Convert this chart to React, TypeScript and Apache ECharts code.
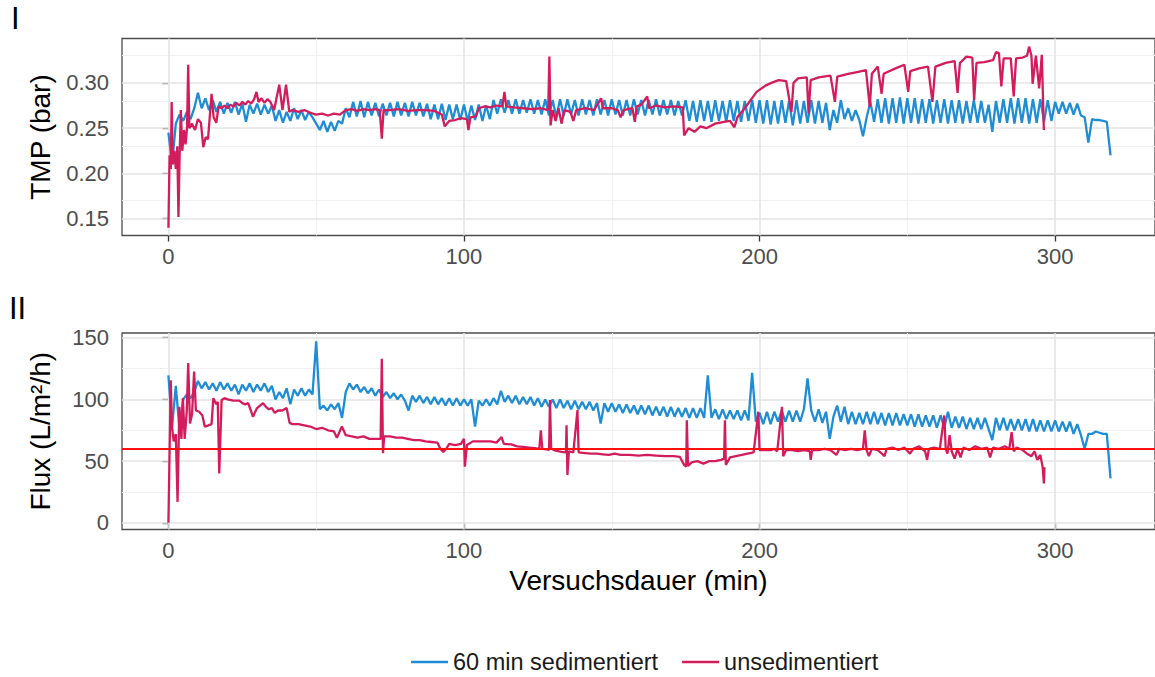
import React, { useEffect, useRef } from "react";
import * as echarts from "echarts";

// ---------- data ----------
const SERIES_NAMES = ["60 min sedimentiert", "unsedimentiert"];
const SAMPLE_STEP = 1.25; // minutes between samples of the sedimented run

// TMP (bar), 60 min sedimentiert, one value every SAMPLE_STEP minutes (rows = 10 min)
const BLUE_TMP = [
  0.245, 0.21, 0.255, 0.265, 0.258, 0.268, 0.26, 0.272,
  0.289, 0.272, 0.283, 0.27, 0.281, 0.268, 0.279, 0.266,
  0.278, 0.267, 0.279, 0.265, 0.277, 0.257, 0.276, 0.266,
  0.277, 0.265, 0.276, 0.266, 0.275, 0.258, 0.27, 0.256,
  0.268, 0.258, 0.272, 0.26, 0.27, 0.259, 0.268, 0.262,
  0.255, 0.248, 0.258, 0.246, 0.257, 0.247, 0.258, 0.255,
  0.272, 0.262, 0.279, 0.263, 0.28, 0.262, 0.279, 0.264,
  0.278, 0.263, 0.277, 0.264, 0.278, 0.263, 0.279, 0.264,
  0.278, 0.263, 0.279, 0.264, 0.278, 0.263, 0.277, 0.26,
  0.276, 0.26, 0.277, 0.259, 0.276, 0.26, 0.276, 0.259,
  0.276, 0.258, 0.275, 0.259, 0.276, 0.258, 0.275, 0.26,
  0.281, 0.266, 0.282, 0.267, 0.281, 0.266, 0.282, 0.266,
  0.281, 0.267, 0.282, 0.266, 0.281, 0.265, 0.282, 0.264,
  0.281, 0.262, 0.282, 0.264, 0.282, 0.265, 0.281, 0.264,
  0.282, 0.265, 0.281, 0.264, 0.282, 0.265, 0.281, 0.264,
  0.282, 0.265, 0.281, 0.264, 0.281, 0.264, 0.282, 0.265,
  0.281, 0.264, 0.281, 0.265, 0.282, 0.264, 0.281, 0.265,
  0.281, 0.264, 0.28, 0.264, 0.281, 0.258, 0.28, 0.257,
  0.281, 0.258, 0.28, 0.257, 0.281, 0.258, 0.28, 0.257,
  0.281, 0.258, 0.28, 0.257, 0.28, 0.258, 0.281, 0.256,
  0.281, 0.255, 0.281, 0.254, 0.28, 0.255, 0.281, 0.256,
  0.28, 0.253, 0.281, 0.255, 0.28, 0.256, 0.281, 0.255,
  0.28, 0.256, 0.278, 0.248, 0.27, 0.256, 0.281, 0.26,
  0.272, 0.258, 0.27, 0.259, 0.241, 0.262, 0.279, 0.257,
  0.282, 0.256, 0.283, 0.255, 0.283, 0.256, 0.284, 0.255,
  0.283, 0.256, 0.283, 0.255, 0.282, 0.256, 0.282, 0.255,
  0.281, 0.256, 0.282, 0.255, 0.281, 0.256, 0.281, 0.255,
  0.28, 0.256, 0.281, 0.256, 0.28, 0.256, 0.276, 0.246,
  0.28, 0.256, 0.282, 0.256, 0.283, 0.255, 0.283, 0.256,
  0.283, 0.255, 0.282, 0.256, 0.282, 0.257, 0.281, 0.258,
  0.279, 0.266, 0.279, 0.266, 0.278, 0.265, 0.277, 0.264,
  0.262, 0.234, 0.26, 0.259, 0.259, 0.258, 0.257, 0.22,
];

// Flux (L/m²/h), 60 min sedimentiert, one value every SAMPLE_STEP minutes
const BLUE_FLUX = [
  119.5, 78, 111, 76, 100, 104, 101, 106,
  115, 109, 114, 108, 113, 107, 114, 108,
  113, 107, 112, 104, 112, 107, 113, 106,
  112, 107, 113, 106, 111, 100, 106, 101,
  109, 96, 108, 103, 109, 103, 108, 104,
  147, 92, 95, 91, 96, 92, 97, 85,
  106, 113, 108, 112, 106, 110, 105, 109,
  103, 108, 102, 106, 101, 105, 100, 104,
  99, 91, 103, 98, 103, 97, 102, 96,
  102, 96, 101, 95, 101, 95, 101, 95,
  100, 95, 100, 78, 99, 95, 100, 95,
  101, 96, 107, 98, 103, 97, 103, 96,
  102, 96, 102, 95, 101, 94, 100, 94,
  100, 93, 100, 93, 99, 92, 99, 92,
  98, 92, 98, 91, 97, 80.5, 97, 90,
  97, 90, 96, 89, 96, 89, 95, 88,
  95, 88, 95, 87, 94, 87, 94, 86,
  94, 86, 93, 86, 93, 85, 93, 85,
  93, 85, 119.5, 85, 92, 84, 92, 84,
  91, 84, 91, 83, 91, 83, 121.5, 82,
  89, 80, 90, 80, 90, 82, 91, 82,
  91, 82, 91, 82, 92, 117, 91, 82,
  92, 81, 90, 68, 86, 95, 82, 94,
  80, 90, 80, 89, 80, 90, 80, 90,
  80, 89, 79, 89, 79, 89, 79, 88,
  79, 88, 78, 88, 78, 87, 78, 87,
  77, 87, 77, 90, 77, 86, 77, 86,
  76, 85, 76, 85, 76, 85, 76, 67,
  85, 75, 85, 75, 84, 75, 84, 75,
  84, 74, 84, 74, 83, 74, 83, 74,
  83, 74, 82, 74, 82, 72, 80, 71,
  60, 72, 72, 74, 73, 72, 72, 36,
];

// TMP (bar), unsedimentiert: [minute, value]
const RED_TMP: [number, number][] = [
  [0, 0.14], [0.4, 0.22], [0.8, 0.205], [1.1, 0.279], [1.5, 0.21], [2, 0.225], [2.5, 0.205], [3, 0.23],
  [3.4, 0.152], [3.8, 0.22], [4.2, 0.27], [4.7, 0.225], [5.3, 0.248], [5.8, 0.232], [6.3, 0.25], [6.7, 0.32],
  [7.1, 0.25], [8, 0.255], [9, 0.248], [10, 0.26], [11, 0.256], [11.8, 0.229], [12.6, 0.24], [13.4, 0.238],
  [14.6, 0.288], [15.3, 0.262], [16.2, 0.256], [17, 0.274], [18, 0.272], [19, 0.275], [20, 0.272], [21, 0.276],
  [22, 0.274], [23, 0.278], [24, 0.275], [25, 0.279], [26, 0.276], [27, 0.28], [28, 0.277], [29, 0.282],
  [29.8, 0.29], [30.5, 0.279], [31.5, 0.283], [32.5, 0.278], [33.5, 0.282], [34.5, 0.279], [35.8, 0.27], [36.5, 0.282],
  [37.5, 0.298], [38.6, 0.27], [39.8, 0.298], [40.9, 0.268], [42, 0.27], [44, 0.268], [46, 0.27], [48, 0.267],
  [50, 0.265], [52, 0.266], [54, 0.264], [56, 0.266], [58, 0.265], [60, 0.27], [62, 0.271], [64, 0.269],
  [66, 0.271], [68, 0.27], [70, 0.271], [71.5, 0.27], [72.2, 0.2385], [72.8, 0.27], [75, 0.27], [78, 0.271],
  [81, 0.269], [84, 0.27], [87, 0.27], [90, 0.269], [92.5, 0.265], [93.5, 0.252], [95, 0.258], [97, 0.259],
  [99, 0.261], [101, 0.26], [101.5, 0.248], [102.2, 0.262], [104, 0.263], [105, 0.272], [107, 0.274], [109, 0.273],
  [111, 0.275], [113, 0.274], [113.7, 0.29], [114.3, 0.274], [117, 0.273], [120, 0.272], [123, 0.271], [126, 0.272],
  [128.5, 0.27], [128.9, 0.329], [129.3, 0.253], [130, 0.27], [131, 0.258], [132, 0.272], [133, 0.255], [134, 0.27],
  [136, 0.268], [137, 0.258], [138, 0.27], [141, 0.272], [144, 0.27], [146.4, 0.283], [147, 0.272], [150, 0.272],
  [152, 0.27], [153, 0.262], [154, 0.27], [157, 0.272], [157.8, 0.257], [158.5, 0.274], [160, 0.276], [162, 0.285],
  [162.6, 0.272], [165, 0.275], [168, 0.273], [171, 0.274], [174, 0.273], [174.5, 0.242], [176, 0.25], [178, 0.246],
  [180, 0.252], [182, 0.25], [185, 0.255], [188, 0.257], [190, 0.258], [191.5, 0.251], [192.5, 0.262], [195, 0.272],
  [197, 0.281], [199, 0.29], [202, 0.297], [204, 0.3], [206.5, 0.303], [209, 0.302], [210.8, 0.268], [211.5, 0.3],
  [213, 0.305], [216, 0.306], [216.6, 0.266], [217.3, 0.303], [220, 0.306], [224, 0.308], [225.5, 0.279], [226.3, 0.307],
  [230, 0.31], [233, 0.312], [236, 0.314], [237.3, 0.2735], [238, 0.31], [240, 0.318], [241.3, 0.288], [242, 0.31],
  [246, 0.316], [249, 0.32], [250.3, 0.29], [251, 0.313], [254, 0.316], [257, 0.318], [258.5, 0.279], [259.5, 0.318],
  [263, 0.322], [266, 0.324], [267, 0.289], [267.8, 0.322], [270, 0.329], [272, 0.328], [272.6, 0.281], [273.4, 0.322],
  [276, 0.323], [279, 0.325], [280, 0.334], [281, 0.333], [281.8, 0.296], [282.6, 0.327], [285, 0.327], [286, 0.285],
  [286.8, 0.327], [289, 0.328], [290.5, 0.33], [291.2, 0.34], [292, 0.33], [292.4, 0.299], [293.5, 0.33], [294.6, 0.294],
  [295.5, 0.331], [296.2, 0.248],
];

// Flux (L/m²/h), unsedimentiert: [minute, value]
const RED_FLUX: [number, number][] = [
  [0, 0], [0.8, 115.5], [1.2, 78], [1.8, 66], [2.5, 72], [3.1, 17], [3.7, 94], [4.4, 68],
  [4.9, 101], [5.5, 68], [6.2, 90], [6.7, 129.5], [7.3, 80.5], [8, 88], [8.7, 122.5], [9.3, 91],
  [10.4, 90], [11.5, 87], [12.3, 78], [13.5, 79], [14.6, 80], [15.2, 101], [16.2, 96], [16.7, 98],
  [17.2, 40], [18, 99.5], [19, 101], [20, 100], [22, 99], [24, 99], [25, 97], [26, 96],
  [27, 97], [28.6, 86], [30, 93], [32, 97], [33, 94], [34, 92], [35, 93], [36, 89],
  [37, 91], [38.5, 91], [40, 93], [41, 81], [42, 80], [44, 80], [46, 79], [48, 78],
  [50, 76], [52, 77], [54, 75], [56, 74], [57, 69], [58.7, 78], [60, 71], [62, 70],
  [64, 69], [66, 70], [68, 68], [70, 68], [71.8, 68], [72.2, 133], [72.6, 56.5], [73, 70],
  [75, 70], [77, 69], [79, 69], [81, 68], [83, 67], [85, 67], [87, 66], [89, 65.5],
  [91, 65], [92, 60], [93, 57.5], [94, 60], [95, 64], [97, 63], [99, 64], [100, 68],
  [100.3, 45.5], [101, 63], [103, 66], [105, 66], [107, 66], [109, 66], [111, 65], [112.7, 69.5],
  [113.5, 64], [116, 63.5], [118, 62], [120, 61.5], [122, 61], [124, 60.5], [125.5, 60], [126, 75],
  [126.5, 60], [128, 59.5], [128.8, 59], [129.1, 99.5], [129.5, 60], [131, 58.5], [133, 57.5], [134.5, 57],
  [134.7, 79], [135, 38.7], [135.5, 58], [137, 57], [138.4, 91.3], [138.8, 57], [141, 56.5], [143, 56],
  [145, 56], [147, 55.5], [149, 55], [151, 56], [153, 55], [156, 55], [159, 54.5], [162, 55],
  [165, 54.5], [168, 54], [171, 54], [173, 53.5], [174.5, 47], [175.2, 45.5], [175.4, 83], [175.8, 46],
  [177, 49], [179, 50], [181, 48], [183, 50], [185, 50], [187, 51], [188, 52], [188.3, 83],
  [188.6, 47], [190, 53], [192, 54], [194, 55], [196, 56], [198, 57], [199.6, 90], [200, 59],
  [202, 59], [204, 59], [205, 60], [206, 58], [207.6, 94], [208, 54], [209, 59], [211, 59],
  [213, 58], [215, 59], [217, 58], [217.3, 51], [217.8, 59], [220, 59], [222, 60], [224, 59],
  [226, 55], [227, 60], [229, 59], [231, 60], [233, 59], [235, 60], [235.6, 75], [236.2, 59],
  [237, 54], [238, 60], [240, 59], [242.3, 54], [243, 60], [245, 61], [247, 59], [249, 61],
  [250.9, 56], [252, 60], [254, 62], [256, 58], [256.7, 51], [257.3, 60], [259, 61], [261, 60],
  [262.5, 87], [263, 60], [263.6, 56], [264.3, 71], [265, 58], [266, 52], [267, 60], [268, 53],
  [269, 61], [271, 59], [273, 62], [275, 60], [277, 61], [278, 53], [279, 61], [281, 60],
  [283, 62], [284.5, 60], [285.3, 73.5], [286, 58], [287, 61], [289, 59], [290.5, 56], [292, 54],
  [293, 58], [294, 51], [295, 55], [295.8, 45], [296.2, 32], [296.4, 45],
];

const X_TICKS = [0, 100, 200, 300];
const X_MINOR = [50, 150, 250];
const TMP_TICKS = [0.15, 0.2, 0.25, 0.3];
const TMP_MINOR = [0.175, 0.225, 0.275, 0.325];
const FLUX_TICKS = [0, 50, 100, 150];
const FLUX_MINOR = [25, 75, 125];
const FLUX_LIMIT = 60;

// ---------- styling ----------
const BLUE = "#1F8DD6";
const MAGENTA = "#D31C5B";
const FONT = "Liberation Sans, Arial, sans-serif";
const MAJOR = { color: "#E4E4E4", width: 1.6, type: "solid" as const };
const MINOR = { color: "#F0F0F0", width: 1, type: "solid" as const };

const gridLines = (yMajor: number[], yMinor: number[]) => [
  ...X_MINOR.map((v) => ({ xAxis: v, lineStyle: MINOR })),
  ...yMinor.map((v) => ({ yAxis: v, lineStyle: MINOR })),
  ...X_TICKS.map((v) => ({ xAxis: v, lineStyle: MAJOR })),
  ...yMajor.map((v) => ({ yAxis: v, lineStyle: MAJOR })),
];

const gridMarkLine = (yMajor: number[], yMinor: number[]) => ({
  silent: true,
  symbol: ["none", "none"],
  z: 1,
  label: { show: false },
  emphasis: { disabled: true },
  animation: false,
  data: gridLines(yMajor, yMinor),
});

const xAxisBase = (gridIndex: number) => ({
  type: "value" as const,
  gridIndex,
  min: -15.7,
  max: 333.8,
  axisLine: { show: false },
  axisTick: { show: true, length: 6, customValues: X_TICKS, lineStyle: { color: "#333", width: 1.3 } },
  axisLabel: { customValues: X_TICKS, fontSize: 22, color: "#4D4D4D", margin: 10, fontFamily: FONT },
  splitLine: { show: false },
});

const lineSeries = (name: string, color: string, data: number[][], idx: number) => ({
  type: "line" as const,
  name,
  xAxisIndex: idx,
  yAxisIndex: idx,
  data,
  symbol: "none",
  showSymbol: false,
  lineStyle: { width: 2.3, color },
  itemStyle: { color },
  z: 3,
  emphasis: { disabled: true },
  animation: false,
});

export default function App() {
  const ref = useRef<HTMLDivElement>(null);

  useEffect(() => {
    if (!ref.current) return;
    const chart = echarts.init(ref.current, null, { renderer: "svg" });

    const blueTmp = BLUE_TMP.map((v, i) => [i * SAMPLE_STEP, v]);
    const blueFlux = BLUE_FLUX.map((v, i) => [i * SAMPLE_STEP, v]);

    const option = {
      animation: false,
      backgroundColor: "#ffffff",
      textStyle: { fontFamily: FONT },
      title: [
        { text: "I", left: 11, top: 3, padding: 0, textStyle: { fontSize: 31, fontWeight: "normal", color: "#000", fontFamily: FONT } },
        { text: "II", left: 9, top: 293, padding: 0, textStyle: { fontSize: 31, fontWeight: "normal", color: "#000", fontFamily: FONT } },
      ],
      legend: {
        data: SERIES_NAMES,
        left: 406,
        top: 645,
        icon: "rect",
        itemWidth: 37,
        itemHeight: 2.5,
        itemGap: 24,
        textStyle: { fontSize: 23.5, color: "#1A1A1A", fontFamily: FONT },
        selectedMode: false,
      },
      grid: [
        { left: 122, top: 38.5, width: 1038, height: 197, show: true, borderColor: "#4D4D4D", borderWidth: 1.3, backgroundColor: "transparent" },
        { left: 122, top: 333, width: 1038, height: 196.5, show: true, borderColor: "#4D4D4D", borderWidth: 1.3, backgroundColor: "transparent" },
      ],
      xAxis: [
        xAxisBase(0),
        {
          ...xAxisBase(1),
          name: "Versuchsdauer (min)",
          nameLocation: "middle",
          nameGap: 37,
          nameTextStyle: { fontSize: 28, color: "#000", fontFamily: FONT },
        },
      ],
      yAxis: [
        {
          type: "value",
          gridIndex: 0,
          min: 0.1315,
          max: 0.349,
          axisLine: { show: false },
          axisTick: { show: true, length: 6, customValues: TMP_TICKS, lineStyle: { color: "#333", width: 1.3 } },
          axisLabel: {
            customValues: TMP_TICKS,
            fontSize: 22,
            color: "#4D4D4D",
            margin: 13,
            fontFamily: FONT,
            formatter: (v: number) => v.toFixed(2),
          },
          splitLine: { show: false },
          name: "TMP (bar)",
          nameLocation: "middle",
          nameGap: 68,
          nameTextStyle: { fontSize: 28, color: "#000", fontFamily: FONT },
        },
        {
          type: "value",
          gridIndex: 1,
          min: -5.4,
          max: 153.8,
          axisLine: { show: false },
          axisTick: { show: true, length: 6, customValues: FLUX_TICKS, lineStyle: { color: "#333", width: 1.3 } },
          axisLabel: { customValues: FLUX_TICKS, fontSize: 22, color: "#4D4D4D", margin: 13, fontFamily: FONT },
          splitLine: { show: false },
          name: "Flux (L/m²/h)",
          nameLocation: "middle",
          nameGap: 68,
          nameTextStyle: { fontSize: 28, color: "#000", fontFamily: FONT },
        },
      ],
      series: [
        { ...lineSeries(SERIES_NAMES[0], BLUE, blueTmp, 0), markLine: gridMarkLine(TMP_TICKS, TMP_MINOR) },
        lineSeries(SERIES_NAMES[1], MAGENTA, RED_TMP, 0),
        { ...lineSeries(SERIES_NAMES[0], BLUE, blueFlux, 1), markLine: gridMarkLine(FLUX_TICKS, FLUX_MINOR) },
        {
          ...lineSeries(SERIES_NAMES[1], MAGENTA, RED_FLUX, 1),
          markLine: {
            silent: true,
            symbol: ["none", "none"],
            z: 10,
            label: { show: false },
            emphasis: { disabled: true },
            animation: false,
            lineStyle: { color: "#FF1010", width: 2, type: "solid" },
            data: [{ yAxis: FLUX_LIMIT }],
          },
        },
      ],
    };

    chart.setOption(option as any);
    return () => chart.dispose();
  }, []);

  return (
    <div
      ref={ref}
      style={{ position: "absolute", left: 0, top: 0, width: 1155, height: 677, background: "#fff" }}
    />
  );
}
